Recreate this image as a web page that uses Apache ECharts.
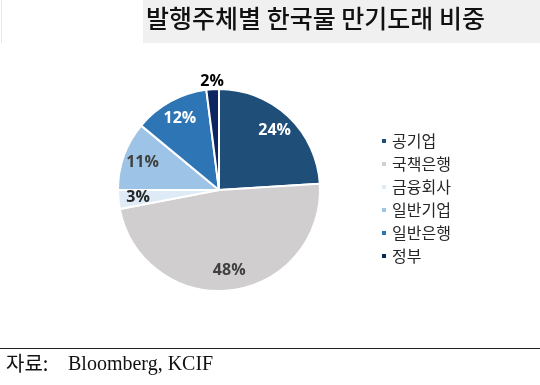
<!DOCTYPE html>
<html>
<head>
<meta charset="utf-8">
<script src="https://cdn.jsdelivr.net/npm/echarts@6/dist/echarts.min.js"></script>
<style>
html,body{margin:0;padding:0;background:#fff;}
#c{width:540px;height:385px;}
</style>
</head>
<body>
<div id="c"></div>
<script>
const titleText = '발행주체별 한국물 만기도래 비중';
const sourceLabel = '자료:';
const sourceText = 'Bloomberg, KCIF';
const categories = ['공기업', '국책은행', '금융회사', '일반기업', '일반은행', '정부'];
const values = [24, 48, 3, 11, 12, 2];
const colors = ['#1F4E79', '#D0CECE', '#DEEBF7', '#9DC3E6', '#2E75B6', '#0B2660'];
const labelColors = ['#ffffff', '#404040', '#262626', '#404040', '#ffffff', '#000000'];

const chart = echarts.init(document.getElementById('c'));
const center = [219, 190];
const R = 101;

const baseData = categories.map((n, i) => ({ name: n, value: values[i], itemStyle: { color: colors[i] } }));
const ringData = categories.map((n, i) => ({
  name: n, value: values[i],
  label: { show: i !== 5, color: labelColors[i] }
}));
const outerData = categories.map((n, i) => ({
  name: n, value: values[i],
  label: { show: i === 5, color: labelColors[i] }
}));

const labelFont = { formatter: '{c}%', fontFamily: '"Open Sans", sans-serif', fontWeight: 'bold', fontSize: 16 };

chart.setOption({
  animation: false,
  backgroundColor: '#ffffff',
  graphic: [
    { type: 'rect', shape: { x: 143, y: 0, width: 397, height: 43 }, style: { fill: '#F0F0F0' }, z: -1 },
    { type: 'line', shape: { x1: 1.5, y1: 0, x2: 1.5, y2: 43 }, style: { stroke: '#E6E6E6', lineWidth: 1 } },
    { type: 'text', left: 146, top: 6, style: { text: titleText, font: '500 25px "Noto Sans CJK KR"', fill: '#111' } },
    { type: 'line', shape: { x1: 0, y1: 348.5, x2: 540, y2: 348.5 }, style: { stroke: '#222', lineWidth: 1 } },
    { type: 'text', left: 6, top: 353, style: { text: sourceLabel, font: '20px "Noto Sans CJK KR"', fill: '#111' } },
    { type: 'text', left: 68, top: 355, style: { text: sourceText, font: '20px "Liberation Serif"', fill: '#111' } }
  ],
  legend: {
    orient: 'vertical',
    left: 380,
    top: 133,
    padding: 0,
    icon: 'rect',
    itemWidth: 6,
    itemHeight: 6,
    itemGap: 7,
    data: categories,
    textStyle: { fontFamily: '"Noto Sans CJK KR"', fontSize: 16, color: '#262626' }
  },
  series: [
    {
      type: 'pie',
      center: center,
      radius: [0, R],
      startAngle: 90,
      clockwise: true,
      silent: true,
      label: { show: false },
      labelLine: { show: false },
      itemStyle: { borderColor: '#ffffff', borderWidth: 2 },
      data: baseData
    },
    {
      type: 'pie',
      center: center,
      radius: [R * 0.55, R],
      startAngle: 90,
      clockwise: true,
      silent: true,
      legendHoverLink: false,
      itemStyle: { color: 'rgba(0,0,0,0)', borderWidth: 0 },
      label: Object.assign({ position: 'inside' }, labelFont),
      labelLine: { show: false },
      data: ringData
    },
    {
      type: 'pie',
      center: center,
      radius: [R, R + 10],
      startAngle: 90,
      clockwise: true,
      silent: true,
      legendHoverLink: false,
      itemStyle: { color: 'rgba(0,0,0,0)', borderWidth: 0 },
      label: Object.assign({ position: 'inside' }, labelFont),
      labelLine: { show: false },
      data: outerData
    }
  ]
});
</script>
</body>
</html>
